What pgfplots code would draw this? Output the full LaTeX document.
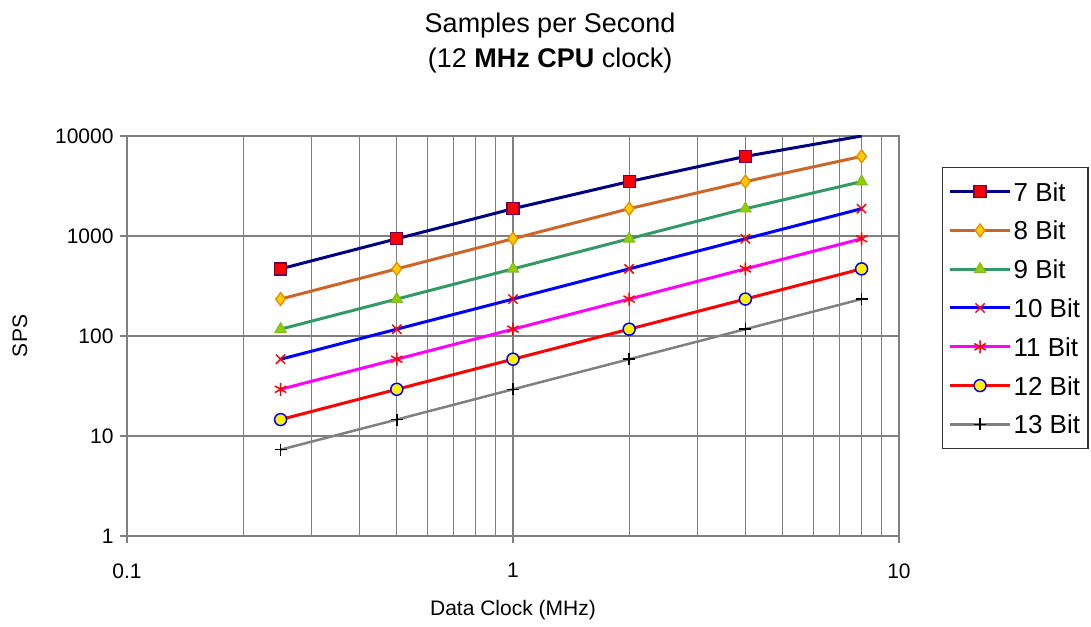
\documentclass[border=0pt]{standalone}
\usepackage{fontspec}
\setmainfont{Liberation Sans}
\usepackage{pgfplots}
\pgfplotsset{compat=1.18}
\definecolor{c7}{RGB}{0,0,128}
\definecolor{c7m}{RGB}{110,0,80}
\definecolor{c8}{RGB}{204,102,40}
\definecolor{c8f}{RGB}{255,204,0}
\definecolor{c8m}{RGB}{230,140,0}
\definecolor{c9}{RGB}{51,153,102}
\definecolor{c9f}{RGB}{153,204,0}
\definecolor{c11}{RGB}{255,0,255}
\definecolor{gridc}{RGB}{128,128,128}
\begin{document}
\begin{tikzpicture}
\path[use as bounding box] (0,0) rectangle (1091bp,627bp);
\begin{axis}[
  at={(127bp,91bp)}, anchor=south west,
  scale only axis, width=772bp, height=400bp,
  xmode=log, ymode=log,
  xmin=0.1, xmax=10, ymin=1, ymax=10000,
  xtick={0.1,1,10}, xticklabels={0.1,1,10},
  ytick={1,10,100,1000,10000}, yticklabels={1,10,100,1000,10000},
  minor xtick={0.2,0.3,0.4,0.5,0.6,0.7,0.8,0.9,2,3,4,5,6,7,8,9},
  yminorticks=false,
  xmajorgrids, xminorgrids, ymajorgrids,
  major grid style={gridc, line width=1.2bp},
  minor grid style={gridc, line width=1.2bp},
  axis line style={gridc, line width=1.3bp},
  tick align=outside, major tick length=7bp, minor tick length=0bp,
  tick style={gridc, line width=1.2bp},
  xtick pos=bottom, ytick pos=left,
  ticklabel style={font=\fontsize{21bp}{25bp}\selectfont},
  /pgf/number format/assume math mode=true,
  xticklabel style={yshift=-17bp},
  yticklabel style={xshift=-3bp},
  title={Samples per Second\\(12 \textbf{MHz CPU} clock)},
  title style={at={(0.548,1.143)}, anchor=south, inner sep=0pt, align=center,
    font=\fontsize{27bp}{35bp}\selectfont},
  xlabel={Data Clock (MHz)},
  xlabel style={at={(0.5,-0.185)}, anchor=center, font=\fontsize{21bp}{25bp}\selectfont},
  ylabel={SPS},
  ylabel style={at={(-0.1386,0.5)}, anchor=center, font=\fontsize{21bp}{25bp}\selectfont},
  legend image code/.code={\draw[mark repeat=2,mark phase=2,#1] plot coordinates {(0bp,0bp) (30bp,0bp) (60bp,0bp)};},
  legend cell align=left,
  legend style={at={(1.0557,0.9225)}, anchor=north west, draw=black!80, line width=1.2bp,
    font=\fontsize{26bp}{30bp}\selectfont, inner xsep=6bp, inner ysep=12.5bp, row sep=15.8bp,
    nodes={inner sep=2bp, text height=19bp, text depth=0bp}},
]
\addlegendimage{c7, line width=3bp, mark=square*, mark size=6bp, mark options={fill=red, draw=c7m, line width=1.3bp}}
\addlegendentry{7 Bit}
\addplot[forget plot, c7, line width=3bp, mark=square*, mark size=6bp, mark indices={1,2,3,4,5}, mark options={fill=red, draw=c7m, line width=1.3bp}]
  coordinates {(0.25,469) (0.5,938) (1,1875) (2,3500) (4,6250) (8,10000)};
\addplot[c8, line width=3bp, mark=diamond*, mark size=6.5bp, mark options={fill=c8f, draw=c8m, line width=1.3bp}]
  coordinates {(0.25,234) (0.5,469) (1,938) (2,1875) (4,3500) (8,6250)};
\addlegendentry{8 Bit}
\addplot[c9, line width=3bp, mark=triangle*, mark size=6.5bp, mark options={fill=c9f, draw=c9f!70!c9, line width=1bp}]
  coordinates {(0.25,117) (0.5,234) (1,469) (2,938) (4,1875) (8,3500)};
\addlegendentry{9 Bit}
\addplot[blue, line width=3bp, mark=x, mark size=6.5bp, mark options={draw=red, line width=1.5bp}]
  coordinates {(0.25,58.6) (0.5,117) (1,234) (2,469) (4,938) (8,1875)};
\addlegendentry{10 Bit}
\addplot[c11, line width=3bp, mark=asterisk, mark size=6.5bp, mark options={draw=red, line width=1.5bp}]
  coordinates {(0.25,29.3) (0.5,58.6) (1,117) (2,234) (4,469) (8,938)};
\addlegendentry{11 Bit}
\addplot[red, line width=3bp, mark=*, mark size=6bp, mark options={fill=yellow, draw=blue, line width=1.5bp}]
  coordinates {(0.25,14.6) (0.5,29.3) (1,58.6) (2,117) (4,234) (8,469)};
\addlegendentry{12 Bit}
\addplot[gridc, line width=2.5bp, mark=+, mark size=6bp, mark options={draw=black, line width=1.5bp}]
  coordinates {(0.25,7.3) (0.5,14.6) (1,29.3) (2,58.6) (4,117) (8,234)};
\addlegendentry{13 Bit}
\end{axis}
\end{tikzpicture}
\end{document}
